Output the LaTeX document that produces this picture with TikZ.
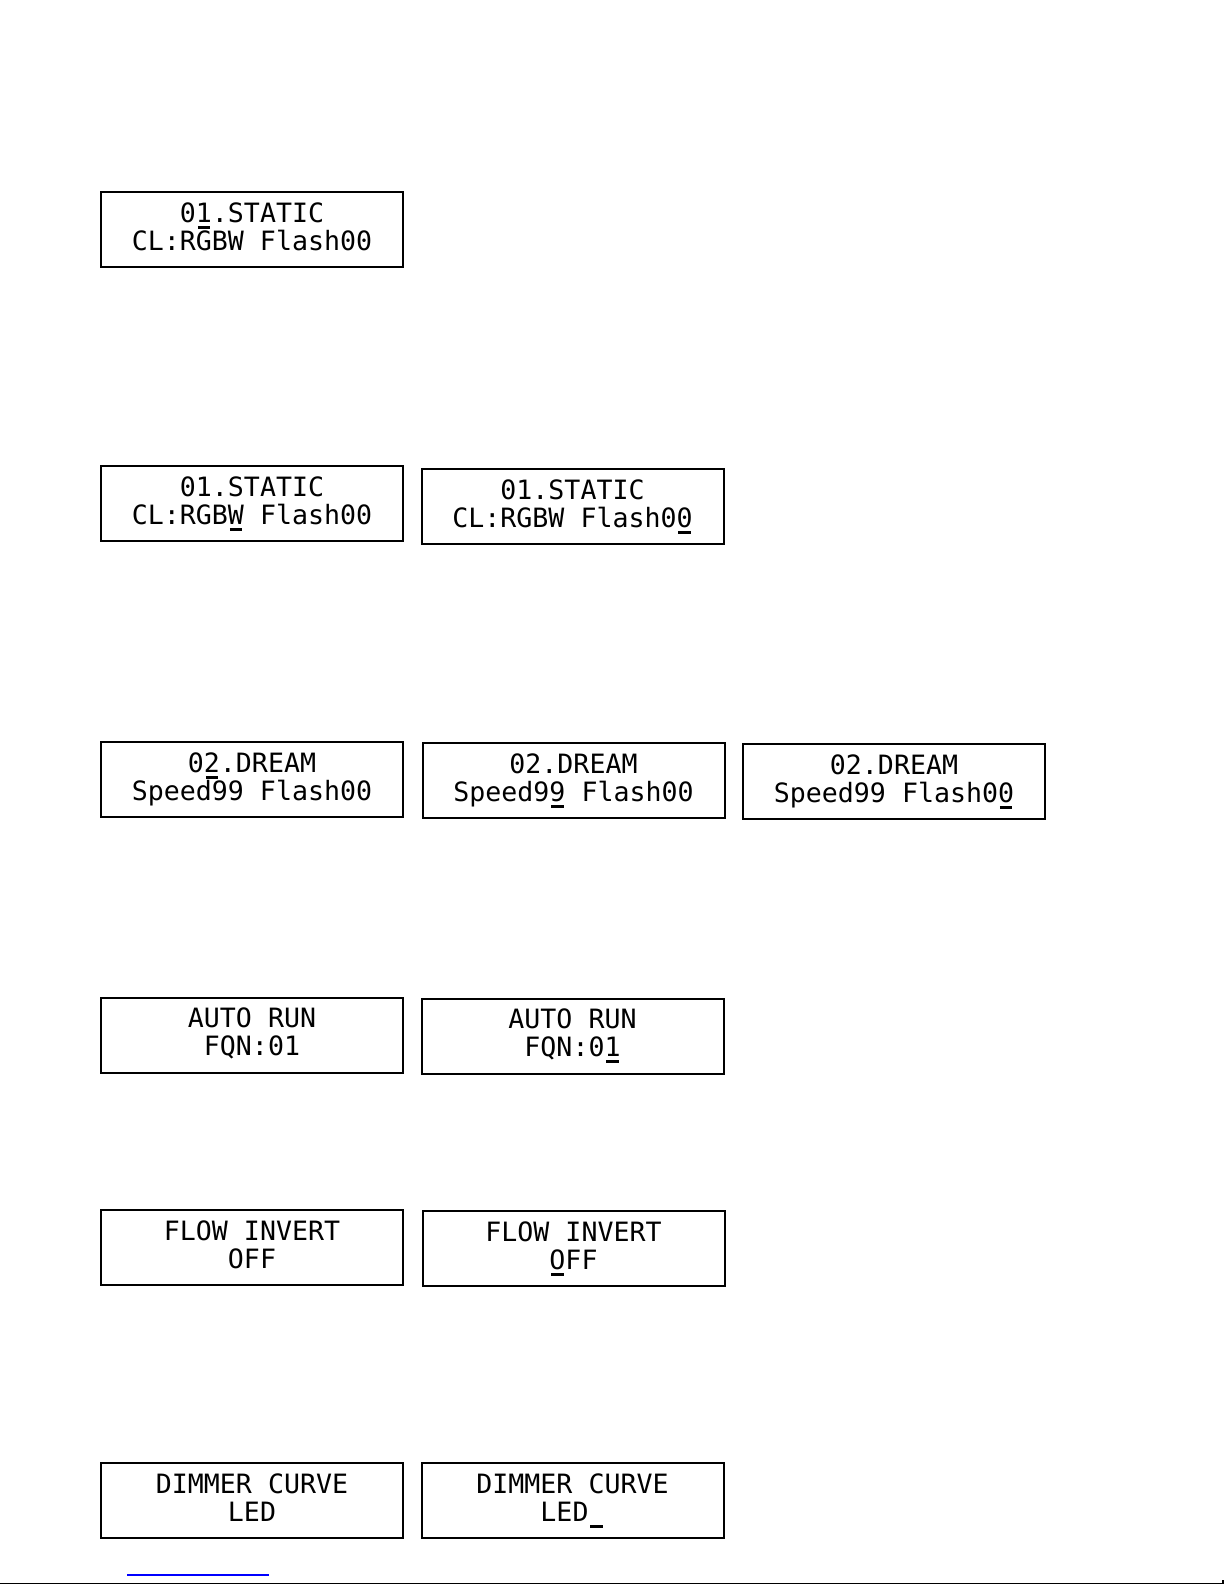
\documentclass[tikz,border=0pt]{standalone}
\usepackage{fontspec}
\usepackage{tikz}
\newfontfamily\lcdfont{DejaVu Sans Mono}
\definecolor{rule}{RGB}{0,0,255}
\newcommand{\cursor}[1]{\rlap{\hspace{0.07em}\rule[-3.3bp]{0.46em}{1.5bp}}#1}
\tikzset{
  screen/.style={draw, line width=1bp, minimum width=151bp, minimum height=37.5bp, inner sep=0pt},
  lcdline/.style={anchor=base, inner sep=0pt, font=\lcdfont\fontsize{13.3bp}{14bp}\selectfont}
}
\newcommand{\lcdscreen}[5]{
    \node[screen] (#1) at (#2,#3) {};
    \node[lcdline] (#1-top) at ([yshift=-15.5bp]#1.north) {#4};
    \node[lcdline] (#1-bot) at ([yshift=-29.5bp]#1.north) {#5};
}

\begin{document}
\begin{tikzpicture}[x=0.5bp, y=-0.5bp]
\useasboundingbox (0,0) rectangle (1225,1585);
\lcdscreen{static}{252}{229.5}{0\cursor{1}.STATIC}{CL:RGBW Flash00}
\lcdscreen{staticw}{252}{503.5}{01.STATIC}{CL:RGB\cursor{W} Flash00}
\lcdscreen{staticf}{572.5}{506.5}{01.STATIC}{CL:RGBW Flash0\cursor{0}}
\lcdscreen{dream}{252}{779.5}{0\cursor{2}.DREAM}{Speed99 Flash00}
\lcdscreen{dreams}{573.5}{780.5}{02.DREAM}{Speed9\cursor{9} Flash00}
\lcdscreen{dreamf}{894}{781.5}{02.DREAM}{Speed99 Flash0\cursor{0}}
\lcdscreen{auto}{252}{1035}{AUTO RUN}{FQN:01}
\lcdscreen{autof}{572.5}{1036}{AUTO RUN}{FQN:0\cursor{1}}
\lcdscreen{flow}{252}{1247.5}{FLOW INVERT}{OFF}
\lcdscreen{flowo}{573.5}{1248.5}{FLOW INVERT}{\cursor{O}FF}
\lcdscreen{dimmer}{252}{1500.5}{DIMMER CURVE}{LED}
\lcdscreen{dimmerc}{572.5}{1500.5}{DIMMER CURVE}{LED\cursor{\phantom{0}}}
% page foot
\draw[rule, line width=0.8bp] (127,1575)--(269,1575);
\draw[line width=0.8bp] (0,1583.5)--(1223,1583.5)--++(0,-4);
\end{tikzpicture}
\end{document}
